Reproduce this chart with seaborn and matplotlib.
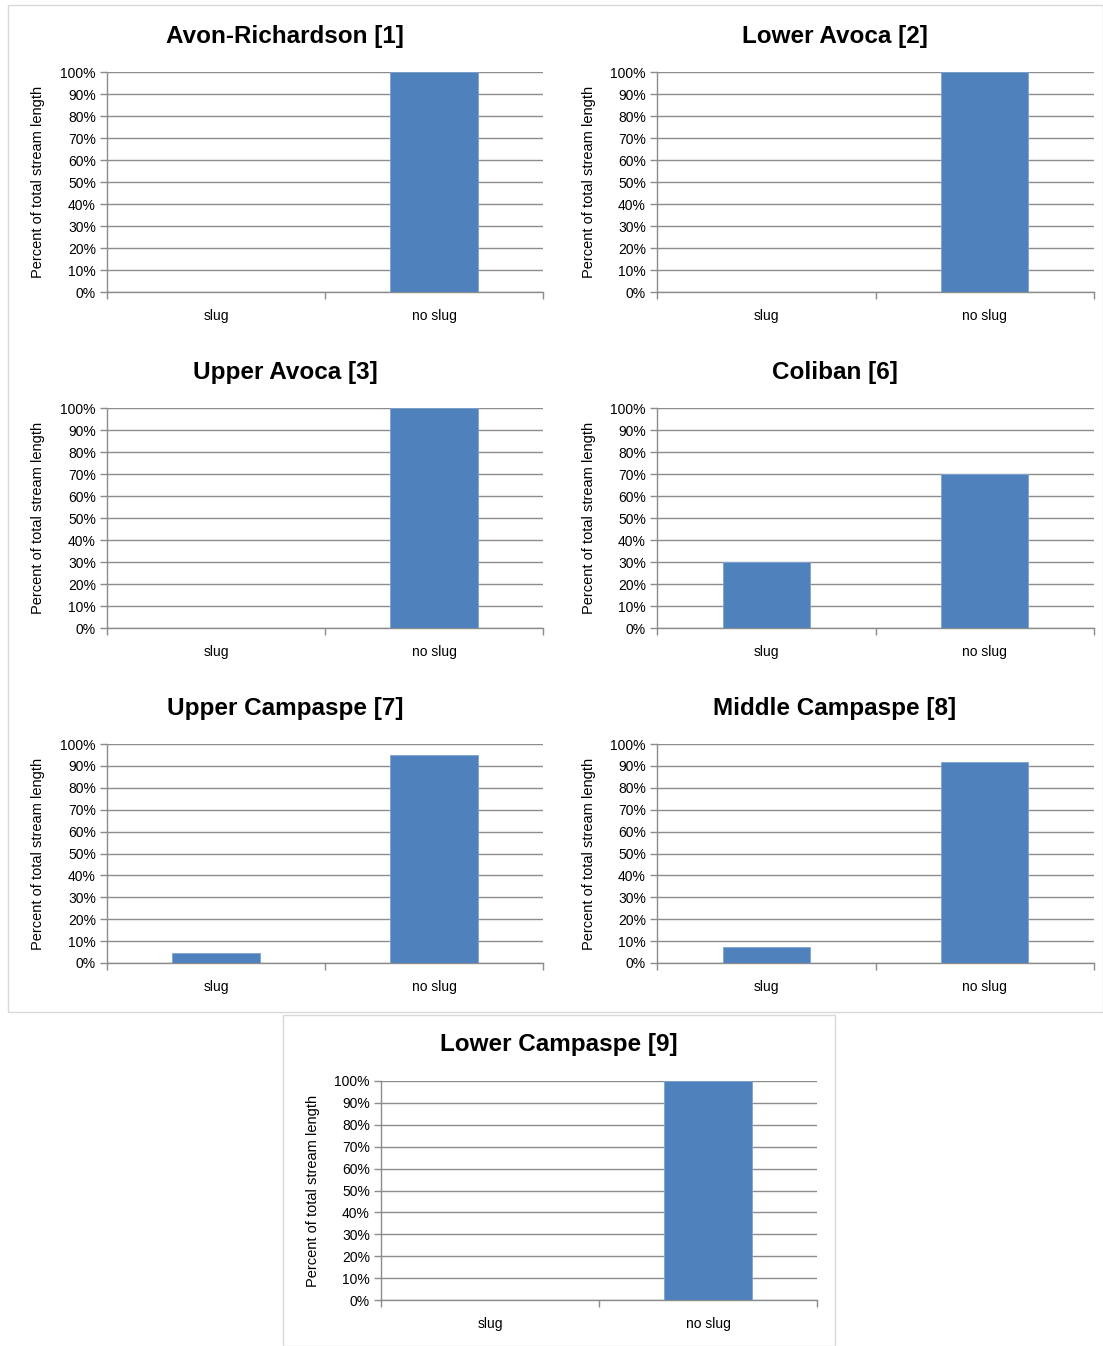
import matplotlib
matplotlib.use("Agg")
import matplotlib.pyplot as plt
from matplotlib.patches import Rectangle
from matplotlib.ticker import FixedLocator, PercentFormatter
import pandas as pd
import seaborn as sns

# Share of total stream length with / without a sediment slug, per reach
sites = ["Avon-Richardson [1]", "Lower Avoca [2]", "Upper Avoca [3]", "Coliban [6]",
         "Upper Campaspe [7]", "Middle Campaspe [8]", "Lower Campaspe [9]"]
categories = ["slug", "no slug"]
slug_pct = [0, 0, 0, 30, 4.5, 7.5, 0]
no_slug_pct = [100, 100, 100, 70, 95, 91.6, 100]
y_ticks = list(range(0, 101, 10))

sns.set_theme(style="white")
plt.rcParams["font.family"] = ["Liberation Sans", "DejaVu Sans"]
plt.rcParams["text.color"] = "black"
plt.rcParams["xtick.color"] = "black"
plt.rcParams["ytick.color"] = "black"
plt.rcParams["axes.labelcolor"] = "black"

W, H = 1103, 1346
fig = plt.figure(figsize=(W / 100, H / 100), dpi=100)
fig.patch.set_facecolor("white")

BAR = "#4F81BD"
GRID = "#8C8C8C"

# (axes left, axes top, axes right, axes bottom, title centre x, title y, ylabel right x) in pixels
layout = [
    (107, 72, 543, 292, 285, 36, 45),
    (657, 72, 1094, 292, 835, 36, 596),
    (107, 408, 543, 628, 285, 372, 45),
    (657, 408, 1094, 628, 835, 372, 596),
    (107, 744, 543, 963, 285, 708, 45),
    (657, 744, 1094, 963, 835, 708, 596),
    (381, 1081, 817, 1300, 559, 1045, 320),
]

# frames around the chart groups
fig.patches.append(Rectangle((8 / W, 1 - 1012 / H), 1095 / W, 1007 / H,
                             transform=fig.transFigure, fill=False,
                             edgecolor="#D9D9D9", linewidth=1))
fig.patches.append(Rectangle((283 / W, 0), 552 / W, 1 - 1015 / H,
                             transform=fig.transFigure, fill=False,
                             edgecolor="#D9D9D9", linewidth=1))

for i, site in enumerate(sites):
    l, t, r, b, tx, ty, lx = layout[i]
    ax = fig.add_axes([l / W, 1 - b / H, (r - l) / W, (b - t) / H])
    df = pd.DataFrame({"category": categories,
                       "pct": [slug_pct[i], no_slug_pct[i]]})
    sns.barplot(data=df, x="category", y="pct", order=categories, color=BAR,
                width=0.4, saturation=1, ax=ax, zorder=3,
                edgecolor="#7FA3D0", linewidth=0.6)
    ax.set_xlim(-0.5, 1.5)
    ax.set_ylim(0, 100)
    ax.yaxis.set_major_locator(FixedLocator(y_ticks))
    ax.yaxis.set_major_formatter(PercentFormatter(decimals=0))
    ax.grid(axis="y", color=GRID, linewidth=1, zorder=0)
    ax.set_axisbelow(True)
    for s in ["top", "right"]:
        ax.spines[s].set_visible(False)
    for s in ["left", "bottom"]:
        ax.spines[s].set_color(GRID)
        ax.spines[s].set_linewidth(1)
    # category boundary ticks on the x axis
    ax.set_xticks([-0.5, 0.5, 1.5], minor=False)
    ax.set_xticklabels([])
    ax.set_xticks([0, 1], minor=True)
    ax.set_xticklabels(categories, minor=True, fontsize=10)
    ax.tick_params(axis="x", which="major", length=5, color=GRID, width=1,
                   direction="out", bottom=True)
    ax.tick_params(axis="x", which="minor", length=0, pad=12)
    ax.tick_params(axis="y", length=5, color=GRID, width=1, direction="out",
                   left=True, labelsize=10, pad=3, labelcolor="black")
    ax.set_xlabel("")
    ax.set_ylabel("Percent of total stream length", fontsize=10.5)
    ax.yaxis.set_label_coords((lx - l) / (r - l), 0.5)
    fig.text(tx / W, 1 - ty / H, site, ha="center", va="center",
             fontsize=17.5, fontweight="bold", color="black")

fig.savefig("out.png", dpi=100, facecolor="white")
